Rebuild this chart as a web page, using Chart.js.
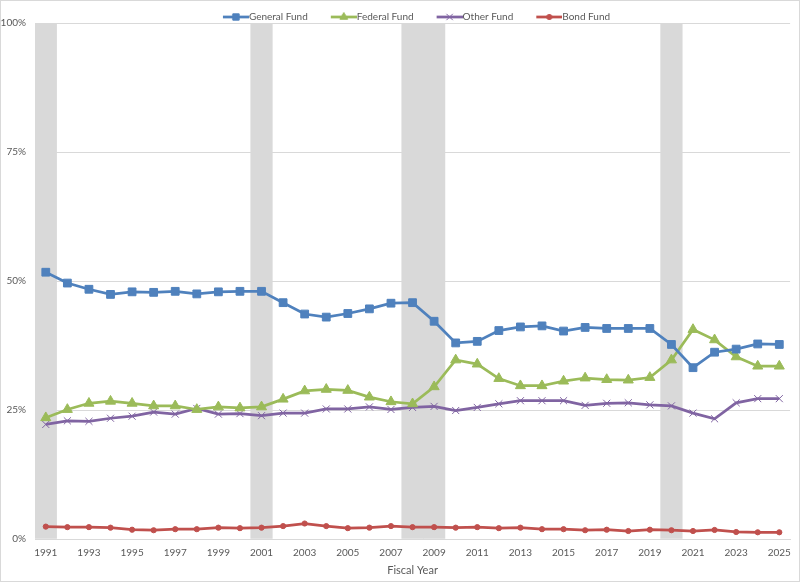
<!DOCTYPE html>
<html>
<head>
<meta charset="utf-8">
<script src="https://cdn.jsdelivr.net/npm/chart.js@4.4.0/dist/chart.umd.min.js"></script>
<style>
  html, body { margin: 0; padding: 0; background: #ffffff; }
  #wrap { position: relative; width: 800px; height: 582px; box-sizing: border-box; border: 1px solid #d9d9d9; }
  canvas { display: block; }
</style>
</head>
<body>
<div id="wrap"><canvas id="c"></canvas></div>
<script>
const years = [1991,1992,1993,1994,1995,1996,1997,1998,1999,2000,2001,2002,2003,2004,2005,2006,2007,2008,2009,2010,2011,2012,2013,2014,2015,2016,2017,2018,2019,2020,2021,2022,2023,2024,2025];
const generalFund = [51.7,49.6,48.4,47.4,47.9,47.8,48.0,47.5,47.9,48.0,48.0,45.8,43.6,43.0,43.7,44.6,45.7,45.8,42.2,38.0,38.3,40.4,41.1,41.3,40.3,41.0,40.8,40.8,40.8,37.7,33.2,36.2,36.8,37.8,37.7];
const federalFund = [23.5,25.1,26.3,26.7,26.3,25.8,25.8,25.1,25.6,25.4,25.6,27.1,28.7,29.0,28.8,27.5,26.6,26.2,29.5,34.7,33.9,31.1,29.7,29.7,30.6,31.2,30.9,30.8,31.3,34.7,40.6,38.6,35.3,33.5,33.5];
const otherFund = [22.2,22.9,22.8,23.4,23.8,24.6,24.2,25.3,24.2,24.3,23.9,24.4,24.4,25.2,25.2,25.6,25.1,25.5,25.7,24.9,25.5,26.2,26.8,26.8,26.8,25.9,26.3,26.4,26.0,25.8,24.4,23.3,26.4,27.2,27.2];
const bondFund = [2.4,2.3,2.3,2.2,1.8,1.7,1.9,1.9,2.2,2.1,2.2,2.5,3.0,2.5,2.1,2.2,2.5,2.3,2.3,2.2,2.3,2.1,2.2,1.9,1.9,1.7,1.8,1.55,1.8,1.7,1.55,1.75,1.36,1.3,1.3];
const recessionYears = [1991, 2001, 2008, 2009, 2020];
const yTicks = [0, 25, 50, 75, 100];

const FONT = 'Lato, "Open Sans", sans-serif';
const TXT = '#595959';
const BOXW = 38;

function icon(color, style, radius) {
  const cv = document.createElement('canvas');
  cv.width = BOXW + 10; cv.height = 12;
  const ctx = cv.getContext('2d');
  ctx.strokeStyle = color; ctx.fillStyle = color; ctx.lineWidth = 2.75;
  ctx.beginPath(); ctx.moveTo(22, 6); ctx.lineTo(BOXW + 10, 6); ctx.stroke();
  ctx.lineWidth = 1;
  Chart.helpers.drawPoint(ctx, {pointStyle: style, radius: radius, borderWidth: 1, rotation: 0}, 35, 6);
  return cv;
}

const series = [
  {label: 'General Fund', data: generalFund, color: '#4f81bd', style: 'rect', r: 5.5},
  {label: 'Federal Fund', data: federalFund, color: '#9bbb59', style: 'triangle', r: 5.8},
  {label: 'Other Fund', data: otherFund, color: '#8064a2', style: 'crossRot', r: 5},
  {label: 'Bond Fund', data: bondFund, color: '#c0504d', style: 'circle', r: 2.6}
];

const lineSets = series.map((s, i) => ({
  type: 'line',
  label: s.label,
  data: s.data,
  borderColor: s.color,
  backgroundColor: s.color,
  borderWidth: 2.75,
  pointStyle: s.style,
  pointRadius: s.r,
  pointBorderWidth: 1,
  pointBackgroundColor: s.color,
  pointBorderColor: s.color,
  tension: 0,
  order: i,
  legendIcon: icon(s.color, s.style, Math.min(s.r, 4.5))
}));

const bandSet = {
  type: 'bar',
  label: 'Recession',
  data: years.map(y => recessionYears.includes(y) ? 100 : null),
  backgroundColor: '#d9d9d9',
  barPercentage: 1,
  categoryPercentage: 1,
  order: 10
};

const legendFit = {
  id: 'legendFit',
  afterInit(chart) {
    const lg = chart.legend;
    if (!lg) return;
    const orig = lg.fit;
    lg.fit = function() {
      orig.call(this);
      this.height = 17;
      if (this.lineWidths && this.lineWidths.length) this.lineWidths[0] -= 18;
    };
  }
};

new Chart(document.getElementById('c'), {
  data: { labels: years, datasets: [...lineSets, bandSet] },
  plugins: [legendFit],
  options: {
    responsive: true,
    maintainAspectRatio: false,
    animation: false,
    layout: { padding: { left: 0, right: 2, top: 5, bottom: 0 } },
    plugins: {
      tooltip: { enabled: false },
      legend: {
        position: 'top',
        labels: {
          color: TXT,
          font: { family: FONT, size: 10 },
          usePointStyle: true,
          pointStyleWidth: BOXW,
          padding: 6,
          generateLabels: (chart) => chart.data.datasets
            .map((d, i) => ({ d, i }))
            .filter(o => o.d.type === 'line')
            .map(o => ({
              text: o.d.label,
              fillStyle: o.d.borderColor,
              strokeStyle: o.d.borderColor,
              lineWidth: 0,
              pointStyle: o.d.legendIcon,
              fontColor: TXT,
              hidden: false,
              datasetIndex: o.i
            }))
        }
      }
    },
    scales: {
      x: {
        type: 'category',
        offset: true,
        grid: { display: false, drawTicks: false },
        border: { display: true, color: '#d9d9d9', width: 1 },
        afterFit: (axis) => { axis.height = 42; },
        ticks: {
          color: TXT,
          font: { family: FONT, size: 10 },
          autoSkip: false,
          maxRotation: 0,
          padding: 8,
          callback: function(v, i) { return i % 2 === 0 ? this.getLabelForValue(v) : ''; }
        },
        title: { display: true, text: 'Fiscal Year', color: TXT, font: { family: FONT, size: 11 }, padding: { top: 0, bottom: 4 } }
      },
      y: {
        min: 0, max: 100,
        afterBuildTicks: (axis) => { axis.ticks = yTicks.map(v => ({ value: v })); },
        afterFit: (axis) => { axis.width = 34; },
        grid: { color: '#d9d9d9', lineWidth: 1, drawTicks: false },
        border: { display: false },
        ticks: {
          color: TXT,
          font: { family: FONT, size: 10 },
          padding: 9,
          callback: (v) => v + '%'
        }
      }
    }
  }
});
</script>
</body>
</html>
